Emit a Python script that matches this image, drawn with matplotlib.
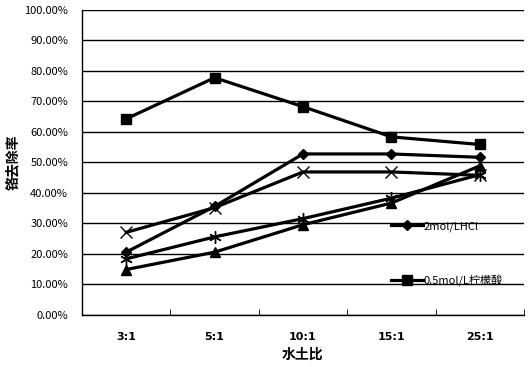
import matplotlib.pyplot as plt
from matplotlib.lines import Line2D
from matplotlib.ticker import FuncFormatter, FixedLocator

plt.rcParams['font.family'] = ['Noto Sans CJK SC', 'DejaVu Sans']

# data (removal rate, %)
ratios = ['3:1', '5:1', '10:1', '15:1', '25:1']
citric = [64.3, 77.8, 68.3, 58.4, 55.9]
hcl = [20.6, 35.6, 52.8, 52.8, 51.7]
series_x = [27.1, 35.2, 46.9, 46.9, 45.8]
series_star = [18.4, 25.6, 31.6, 38.3, 46.0]
series_tri = [14.9, 20.6, 29.6, 36.7, 48.9]

fig = plt.figure(figsize=(5.31, 3.67), dpi=100)
ax = fig.add_axes([0.1544, 0.1417, 0.8324, 0.8311])

x = range(len(ratios))
kw = dict(color='black', lw=2.3)
ax.plot(x, citric, marker='s', ms=7, **kw)
ax.plot(x, hcl, marker='D', ms=5, **kw)
ax.plot(x, series_x, marker='x', ms=8, mew=1, **kw)
ax.plot(x, series_star, marker=(6, 2, 0), ms=9, mew=1, **kw)
ax.plot(x, series_tri, marker='^', ms=7, **kw)

ax.set_xlim(-0.5, len(ratios) - 0.5)
ax.set_ylim(0, 100)
ax.set_yticks(range(0, 101, 10))
ax.yaxis.set_major_formatter(FuncFormatter(lambda v, p: '%.2f%%' % v))
ax.grid(axis='y', color='black', lw=1)
ax.set_axisbelow(True)

ax.set_xticks(list(x))
ax.set_xticklabels(ratios, fontweight='bold', fontsize=8, family='DejaVu Sans')
ax.xaxis.set_minor_locator(FixedLocator([i + 0.5 for i in range(-1, len(ratios))]))
ax.tick_params(axis='x', which='major', length=0, pad=12)
ax.tick_params(axis='x', which='minor', length=4, direction='in', color='black')
ax.tick_params(axis='y', length=0, labelsize=8, pad=10)

for s in ['top', 'right']:
    ax.spines[s].set_visible(False)
for s in ['left', 'bottom']:
    ax.spines[s].set_color('black')
    ax.spines[s].set_linewidth(1)

ax.set_xlabel('水土比', fontweight='bold', fontsize=10, labelpad=4)
ax.set_ylabel('铬去除率', fontweight='bold', fontsize=10, labelpad=3)

handles = [Line2D([], [], marker='D', ms=5, **kw),
           Line2D([], [], marker='s', ms=7, **kw)]
ax.legend(handles, ['2mol/LHCl', '0.5mol/L柠檬酸'], frameon=False,
          loc='upper left', bbox_to_anchor=(0.69, 0.322), fontsize=8,
          handlelength=2.8, handletextpad=0.05, labelspacing=3.85,
          borderaxespad=0)

fig.savefig('out.png', dpi=100)
